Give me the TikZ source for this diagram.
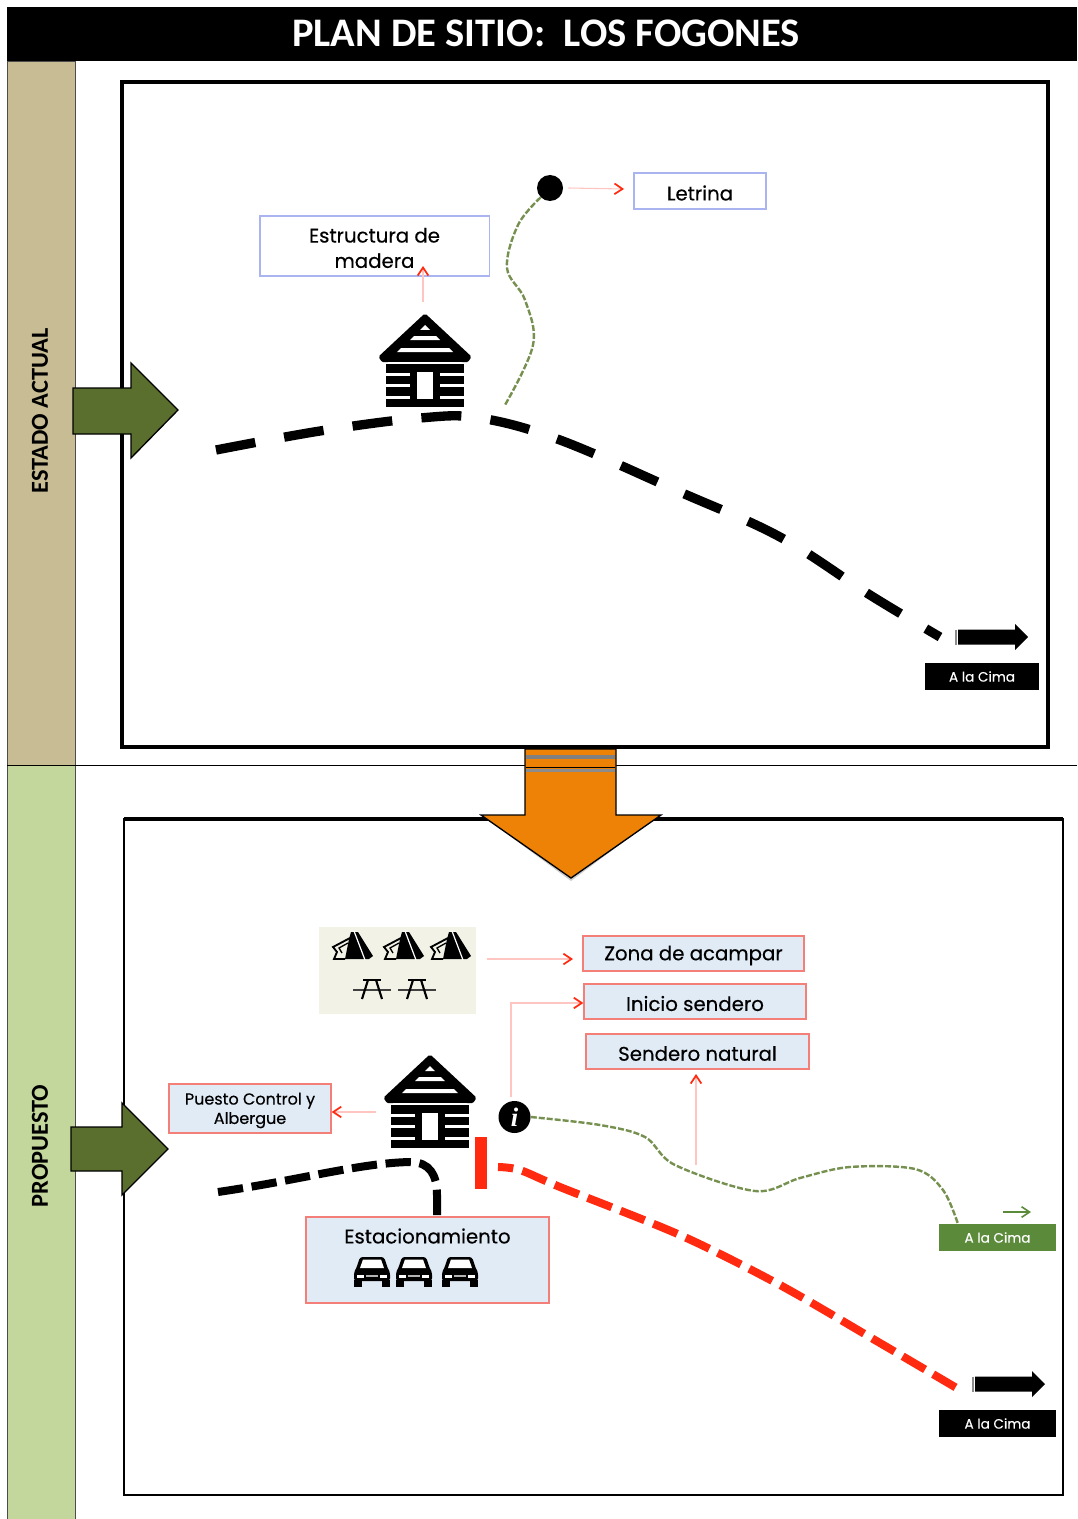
\documentclass[tikz,border=0pt]{standalone}
\usepackage{fontspec}
\setmainfont{Poppins}[FakeBold=0.35]
\newfontfamily\titlefont{Carlito}
\newfontfamily\infofont{Liberation Serif}
\usetikzlibrary{arrows.meta}
\definecolor{olive}{HTML}{5A6E2E}
\definecolor{orangeA}{HTML}{EE8207}
\definecolor{beige}{HTML}{C8BC95}
\definecolor{paleGreen}{HTML}{C3D69B}
\definecolor{pink}{HTML}{FFC5C0}
\definecolor{redA}{HTML}{FF2A10}
\definecolor{boxBlue}{HTML}{E1EBF6}
\definecolor{boxEdge}{HTML}{F47F78}
\definecolor{blueEdge}{HTML}{A9B4F0}
\definecolor{tentBg}{HTML}{F2F3E6}
\definecolor{trail}{HTML}{76904F}
\definecolor{greenBox}{HTML}{5B8B3A}
\newcommand{\lbl}[1]{\raisebox{-1.5pt}[\height][\depth]{#1}}
\tikzset{
  px/.style={x=0.75pt,y=-0.75pt},
  frameBox/.style={draw=black,line width=3pt},
  band/.style={draw=black!70,line width=0.6pt},
  bandText/.style={rotate=90,font=\titlefont\bfseries\fontsize{18.3}{20}\selectfont,text=black},
  link/.style={draw=pink,line width=0.8pt,-{Straight Barb[color=redA,length=6pt,width=8pt,line width=1.3pt]}},
  plainLabel/.style={draw=blueEdge,line width=1pt,fill=white,align=center,font=\fontsize{14.8}{19}\selectfont,inner sep=0pt},
  redLabel/.style={draw=boxEdge,line width=1pt,fill=boxBlue,align=center,font=\fontsize{14.8}{19}\selectfont,inner sep=0pt},
  smallLabel/.style={redLabel,font=\fontsize{12}{14.5}\selectfont},
  cimaLabel/.style={fill=black,text=white,align=center,font=\fontsize{10.2}{11}\selectfont,inner sep=0pt},
  cimaGreen/.style={fill=greenBox,text=white,align=center,font=\fontsize{10.2}{11}\selectfont,inner sep=0pt},
  road/.style={draw=black,line width=7pt,dash pattern=on 30pt off 22pt},
  roadRed/.style={draw=redA,line width=6pt,dash pattern=on 19.5pt off 7pt,dash phase=8pt},
  roadShort/.style={draw=black,line width=6pt,dash pattern=on 19pt off 6.5pt},
  trailLine/.style={draw=trail,line width=1.8pt,dash pattern=on 4.5pt off 1.5pt},
  sideArrow/.style={fill=olive,draw=black,line width=1pt,line join=miter},
  pics/cabin/.style={code={
    \fill[black,line join=round,draw=black,line width=3pt] (0,1)--(44,42)--(42,45)--(-42,45)--(-44,42)--cycle;
    \fill[white] (0,10)--(5,15)--(-5,15)--cycle;
    \fill[white] (-11,21)--(11,21)--(15,25)--(-15,25)--cycle;
    \fill[white] (-24,33)--(24,33)--(28,37)--(-28,37)--cycle;
    \fill[white] (-37,47)--(37,47)--(37,49)--(-37,49)--cycle;
    \fill[black] (-39,49) rectangle (39,57.5);
    \fill[black] (-39,60.5) rectangle (39,69);
    \fill[black] (-39,72) rectangle (39,80.5);
    \fill[black] (-39,84) rectangle (39,92);
    \fill[black] (-15,49) rectangle (15,92);
    \fill[white] (-8,57) rectangle (8,84);
  }},
  pics/tent/.style={code={
    \fill[black] (-1,-13)--(6,-13)--(21,11)--(17,14)--(-7,14)--(-3,-6)--cycle;
    \draw[white,line width=0.9pt] (2,-14)--(13,15);
    \draw[black,line width=1.4pt] (-2,-7)--(-19,2)--(-15,7)--(-18,14)--(-7,14);
    \draw[black,line width=1pt] (-4,-2)--(-13,3)--(-10,8);
  }},
  pics/bench/.style={code={
    \draw[black!75,line width=0.9pt] (-19,0)--(19,0);
    \draw[black,line width=1.8pt] (-9,-10)--(9,-10);
    \draw[black,line width=1.6pt] (-4,-10)--(-10,9);
    \draw[black,line width=1.6pt] (4,-10)--(10,9);
  }},
  pics/car/.style={code={
    \fill[black,rounded corners=2pt] (-12,-15)--(12,-15)--(16,-3)--(18,0)--(18,9)--(-18,9)--(-18,0)--(-16,-3)--cycle;
    \fill[black] (-18,8) rectangle (-10,15);
    \fill[black] (10,8) rectangle (18,15);
    \fill[white] (-9,-12.5)--(9,-12.5)--(12,-4)--(-12,-4)--cycle;
    \fill[white] (-15,3) rectangle (-8,5.5);
    \fill[white] (8,3) rectangle (15,5.5);
    \fill[black!30] (-6,3) rectangle (6,5);
  }},
  pics/bigArrow/.style={code={
    \draw[black!45,line width=0.8pt] (-2,-7.5)--(-2,7.5);
    \fill[black] (0,-7.5)--(57,-7.5)--(57,-13)--(70,0)--(57,13)--(57,7.5)--(0,7.5)--cycle;
  }},
}
\begin{document}
\begin{tikzpicture}[px]
\useasboundingbox (0,0) rectangle (1077,1519);
% bands
\fill[white] (0,0) rectangle (1077,1519);
\path[band,fill=beige] (7,61) rectangle (75,765);
\path[band,fill=paleGreen] (7,765) rectangle (75,1519);
\draw[black,line width=0.8pt] (7,765.5) -- (1077,765.5);
\node[fill=black,text=white,minimum width=802.5pt,minimum height=40.5pt,inner sep=0pt,font=\titlefont\bfseries\fontsize{30.4}{33}\selectfont] (title) at (542,34) {\hspace*{6pt}\raisebox{0.7pt}[\height][\depth]{PLAN DE SITIO:\ \ LOS FOGONES}};
\node[bandText] (estado) at (40,411) {ESTADO ACTUAL};
\node[bandText] (propuesto) at (40,1146) {PROPUESTO};
% frames
\draw[frameBox] (122,82) rectangle (1048,747);
\draw[draw=black,line width=2pt] (124,819) rectangle (1063,1495);
\draw[black,line width=3pt] (124,819) -- (1063,819);
% side arrows
\path[sideArrow] (73,388)--(131,388)--(131,363)--(178,410)--(131,458)--(131,434)--(73,434)--cycle;
\path[sideArrow] (71,1127)--(122,1127)--(122,1103)--(168,1149)--(122,1195)--(122,1171)--(71,1171)--cycle;
% top scene
\pic at (425,315) {cabin};
\coordinate (roadAstart) at (216,450);
\coordinate (roadAend) at (940,637);
\draw[road] plot[smooth,tension=0.6] coordinates {(roadAstart) (320,431) (420,418) (480,418) (560,440) (680,492) (780,537) (870,595) (roadAend)};
\node[circle,fill=black,minimum size=19.5pt,inner sep=0pt] (dot) at (550,188) {};
\node[plainLabel,minimum width=99pt,minimum height=27pt] (letrina) at (700,191) {\lbl{Letrina}};
\node[plainLabel,minimum width=172pt,minimum height=45pt] (estructura) at (374.5,246) {\lbl{Estructura de}\\\lbl{madera}};
\coordinate (cabinAtop) at (423,302);
\coordinate (estructuraIn) at (423,266);
\draw[link] (cabinAtop) -- (estructuraIn);
\coordinate (letrinaIn) at (624,189);
\draw[link] (dot.east) ++(5,0) -- (letrinaIn);
\coordinate (trailAend) at (505,405);
\draw[trailLine] plot[smooth,tension=0.6] coordinates {(dot.south west) (518,225) (507,268) (525,300) (533,345) (trailAend)};
\pic at (958,637) {bigArrow};
\node[cimaLabel,minimum width=85.5pt,minimum height=20pt] (cimaA) at (982,676.5) {A la Cima};
% orange arrow
\fill[black,opacity=0.2] (484,817)--(571,881)--(657,817)--cycle;
\draw[black,line width=1pt,fill=orangeA] (525,749)--(616,749)--(616,815)--(661,815)--(571,878)--(481,815)--(525,815)--cycle;
\fill[black!50] (526,755) rectangle (615,759);
\fill[black!45] (526,769) rectangle (615,772);
\draw[black,line width=0.8pt] (526,767.5) -- (615,767.5);
% bottom scene
\fill[tentBg] (319,927) rectangle (476,1014);
\node[inner sep=0pt,minimum width=117.75pt,minimum height=65.25pt] (camp) at (397.5,970.5) {};
\pic at (352,945) {tent};
\pic at (403,945) {tent};
\pic at (450,945) {tent};
\pic at (372,990) {bench};
\pic at (417,990) {bench};
\node[redLabel,minimum width=165.75pt,minimum height=26.25pt] (zona) at (693.5,953.5) {\lbl{Zona de acampar}};
\node[redLabel,minimum width=166.5pt,minimum height=26.25pt] (inicio) at (695,1001.5) {\lbl{Inicio sendero}};
\node[redLabel,minimum width=167.25pt,minimum height=26.25pt] (sendero) at (697.5,1051.5) {\lbl{Sendero natural}};
\node[smallLabel,minimum width=121.5pt,minimum height=36.75pt] (puesto) at (250,1108.5) {\lbl{Puesto Control y}\\\lbl{Albergue}};
\pic at (430,1056) {cabin};
\coordinate (cabinBleft) at (376,1112);
\draw[link] (cabinBleft) -- (puesto.east |- cabinBleft);
\coordinate (campOut) at (487,959);
\draw[link] (campOut) -- (573,959);
\node[circle,fill=black,minimum size=24pt,inner sep=0pt,text=white,font=\infofont\bfseries\itshape\fontsize{20}{20}\selectfont] (info) at (514.5,1117) {i};
\draw[link] (info.north -| 511,0) ++(0,-4) -- (511,1003) -- (inicio.west |- 0,1003);
\coordinate (trailBmid) at (696,1165);
\draw[link] (trailBmid) -- (696,1074);
\node[cimaGreen,minimum width=87.75pt,minimum height=20.25pt] (cimaG) at (997.5,1237.5) {A la Cima};
\coordinate (trailBend) at (958,1224);
\draw[trailLine] plot[smooth,tension=0.55] coordinates {(info.east) (600,1125) (645,1137) (675,1165) (755,1191) (800,1178) (850,1167) (915,1169) (943,1190) (trailBend)};
\coordinate (greenTail) at (1003,1212);
\draw[draw=greenBox,line width=1.2pt,-{Straight Barb[length=6pt,width=8pt,line width=1.2pt]}] (greenTail) -- (1031,1212);
\fill[redA] (475,1137) rectangle (487,1189);
\coordinate (redStart) at (498,1167);
\coordinate (redEnd) at (960,1390);
\draw[roadRed] plot[smooth,tension=0.5] coordinates {(redStart) (520,1170) (560,1187) (680,1235) (780,1285) (880,1343) (redEnd)};
\node[redLabel,minimum width=182.25pt,minimum height=64.5pt] (estac) at (427.5,1260) {};
\node[font=\fontsize{14.8}{19}\selectfont,inner sep=0pt] (estacText) at (427.5,1236) {Estacionamiento};
\pic at (372,1272) {car};
\pic at (414,1272) {car};
\pic at (460,1272) {car};
\coordinate (roadBstart) at (218,1192);
\draw[roadShort] (roadBstart) .. controls (300,1180) and (360,1163) .. (410,1162) .. controls (430,1162) and (437,1175) .. (437,1195) -- (estac.north -| 437,0);
\pic at (975,1384) {bigArrow};
\node[cimaLabel,minimum width=87.75pt,minimum height=20.25pt] (cimaB) at (997.5,1423.5) {A la Cima};
\end{tikzpicture}
\end{document}
